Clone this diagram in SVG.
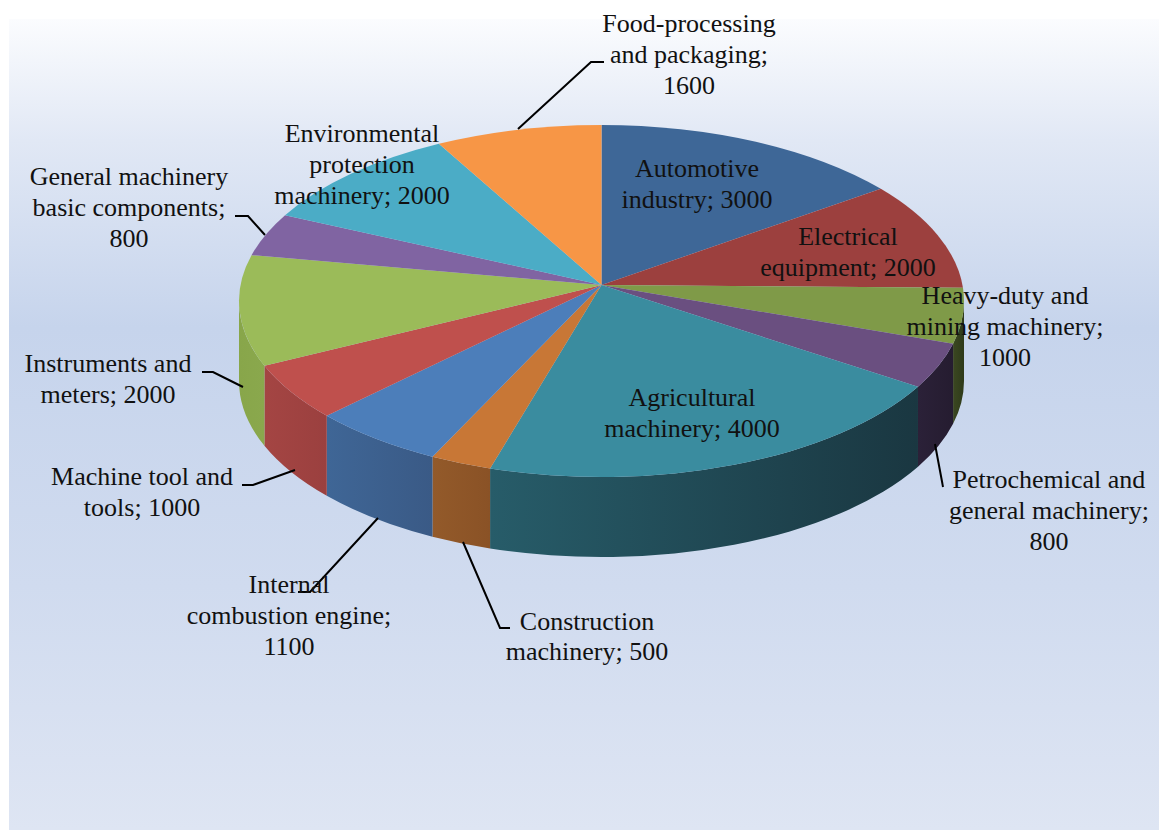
<svg xmlns="http://www.w3.org/2000/svg" width="1166" height="830" viewBox="0 0 1166 830">
<style>
.lbl{font-family:"Liberation Serif","Times New Roman",serif;font-size:26px;fill:#111;text-anchor:middle}
.lead{fill:none;stroke:#000;stroke-width:2}
</style>
<defs>
<linearGradient id="bg" x1="0" y1="0" x2="0" y2="1">
<stop offset="0" stop-color="#FBFCFE"/>
<stop offset="0.15" stop-color="#E1E8F5"/>
<stop offset="0.38" stop-color="#C6D4EC"/>
<stop offset="0.7" stop-color="#D0DBEF"/>
<stop offset="1" stop-color="#DEE5F3"/>
</linearGradient>
<linearGradient id="gHeavy" x1="0" x2="1"><stop offset="0" stop-color="#3B4721"/><stop offset="1" stop-color="#2E3A1A"/></linearGradient>
<linearGradient id="gPetro" x1="0" x2="1"><stop offset="0" stop-color="#2B2138"/><stop offset="1" stop-color="#251C30"/></linearGradient>
<linearGradient id="gAgri" x1="0" x2="1"><stop offset="0" stop-color="#275C69"/><stop offset="1" stop-color="#1A3741"/></linearGradient>
<linearGradient id="gCons" x1="0" x2="1"><stop offset="0" stop-color="#935A2A"/><stop offset="1" stop-color="#8A5226"/></linearGradient>
<linearGradient id="gIce" x1="0" x2="1"><stop offset="0" stop-color="#3F6696"/><stop offset="1" stop-color="#3A5A86"/></linearGradient>
<linearGradient id="gMach" x1="0" x2="1"><stop offset="0" stop-color="#A44543"/><stop offset="1" stop-color="#9B403F"/></linearGradient>
<linearGradient id="gInst" x1="0" x2="1"><stop offset="0" stop-color="#88A64A"/><stop offset="1" stop-color="#8AA84D"/></linearGradient>
</defs>
<rect x="0" y="0" width="1166" height="830" fill="#FFFFFF"/>
<rect x="9" y="19" width="1150" height="811" fill="url(#bg)"/>

<g id="sides">
<path fill="url(#gHeavy)" d="M964,301 A362.5,176 0 0 1 953.09,343.84 L953.09,423.84 A362.5,176 0 0 0 964,381 Z"/>
<path fill="url(#gPetro)" d="M953.09,343.84 A362.5,176 0 0 1 917.99,386.81 L917.99,466.81 A362.5,176 0 0 0 953.09,423.84 Z"/>
<path fill="url(#gAgri)" d="M917.99,386.81 A362.5,176 0 0 1 490.08,468.47 L490.08,548.47 A362.5,176 0 0 0 917.99,466.81 Z"/>
<path fill="url(#gCons)" d="M490.08,468.47 A362.5,176 0 0 1 432.47,456.69 L432.47,536.69 A362.5,176 0 0 0 490.08,548.47 Z"/>
<path fill="url(#gIce)" d="M432.47,456.69 A362.5,176 0 0 1 326.78,415.82 L326.78,495.82 A362.5,176 0 0 0 432.47,536.69 Z"/>
<path fill="url(#gMach)" d="M326.78,415.82 A362.5,176 0 0 1 264.44,365.77 L264.44,445.77 A362.5,176 0 0 0 326.78,495.82 Z"/>
<path fill="url(#gInst)" d="M264.44,365.77 A362.5,176 0 0 1 239,301 L239,381 A362.5,176 0 0 0 264.44,445.77 Z"/>
</g>

<g id="slice-automotive"><path fill="#3E6797" d="M601.5,285 L601.5,125 A362.5,176 0 0 1 880.83,188.83 Z"/><text class="lbl" x="697" y="177">Automotive</text><text class="lbl" x="697" y="208">industry; 3000</text></g>
<g id="slice-electrical"><path fill="#9C403E" d="M601.5,285 L880.83,188.83 A362.5,176 0 0 1 962.97,287.77 Z"/></g>
<g id="slice-heavy"><path fill="#7F9A48" d="M601.5,285 L962.97,287.77 A362.5,176 0 0 1 953.09,343.84 Z"/></g>
<g id="slice-petro"><path fill="#6A4F80" d="M601.5,285 L953.09,343.84 A362.5,176 0 0 1 917.99,386.81 Z"/></g>
<g id="slice-agri"><path fill="#3A8C9F" d="M601.5,285 L917.99,386.81 A362.5,176 0 0 1 490.08,468.47 Z"/></g>
<g id="slice-construction"><path fill="#C87736" d="M601.5,285 L490.08,468.47 A362.5,176 0 0 1 432.47,456.69 Z"/></g>
<g id="slice-ice"><path fill="#4C7EBA" d="M601.5,285 L432.47,456.69 A362.5,176 0 0 1 326.78,415.82 Z"/></g>
<g id="slice-machine"><path fill="#BF504D" d="M601.5,285 L326.78,415.82 A362.5,176 0 0 1 264.44,365.77 Z"/></g>
<g id="slice-instruments"><path fill="#9BBB59" d="M601.5,285 L264.44,365.77 A362.5,176 0 0 1 251.5,255.16 Z"/></g>
<g id="slice-general"><path fill="#8064A2" d="M601.5,285 L251.5,255.16 A362.5,176 0 0 1 285.07,215.13 Z"/></g>
<g id="slice-environmental"><path fill="#4BACC6" d="M601.5,285 L285.07,215.13 A362.5,176 0 0 1 438.9,143.7 Z"/></g>
<g id="slice-food"><path fill="#F79646" d="M601.5,285 L438.9,143.7 A362.5,176 0 0 1 601.5,125 Z"/></g>

<g id="connectors">
<polyline class="lead" points="518,129 591,62 604,62"/>
<polyline class="lead" points="235,216 248,216 265,235"/>
<polyline class="lead" points="202,372 213,372 243,387"/>
<polyline class="lead" points="242,485 253,485 295,470"/>
<polyline class="lead" points="378,518 310,592 298,592"/>
<polyline class="lead" points="463,542 500,628 510,628"/>
<polyline class="lead" points="935,444 943,487"/>
</g>

<g id="labels">
<g id="label-food"><text class="lbl" x="689" y="32">Food-processing</text><text class="lbl" x="689" y="63">and packaging;</text><text class="lbl" x="689" y="94">1600</text></g>
<g id="label-environmental"><text class="lbl" x="362" y="142">Environmental</text><text class="lbl" x="362" y="173">protection</text><text class="lbl" x="362" y="204">machinery; 2000</text></g>
<g id="label-electrical"><text class="lbl" x="848" y="245">Electrical</text><text class="lbl" x="848" y="276">equipment; 2000</text></g>
<g id="label-heavy"><text class="lbl" x="1005" y="304">Heavy-duty and</text><text class="lbl" x="1005" y="335">mining machinery;</text><text class="lbl" x="1005" y="366">1000</text></g>
<g id="label-petro"><text class="lbl" x="1049" y="488">Petrochemical and</text><text class="lbl" x="1049" y="519">general machinery;</text><text class="lbl" x="1049" y="550">800</text></g>
<g id="label-agri"><text class="lbl" x="692" y="406">Agricultural</text><text class="lbl" x="692" y="437">machinery; 4000</text></g>
<g id="label-general"><text class="lbl" x="129" y="185">General machinery</text><text class="lbl" x="129" y="216">basic components;</text><text class="lbl" x="129" y="247">800</text></g>
<g id="label-instruments"><text class="lbl" x="108" y="372">Instruments and</text><text class="lbl" x="108" y="403">meters; 2000</text></g>
<g id="label-machine"><text class="lbl" x="142" y="485">Machine tool and</text><text class="lbl" x="142" y="516">tools; 1000</text></g>
<g id="label-ice"><text class="lbl" x="289" y="593">Internal</text><text class="lbl" x="289" y="624">combustion engine;</text><text class="lbl" x="289" y="655">1100</text></g>
<g id="label-construction"><text class="lbl" x="587" y="630">Construction</text><text class="lbl" x="587" y="660">machinery; 500</text></g>
</g>
</svg>
